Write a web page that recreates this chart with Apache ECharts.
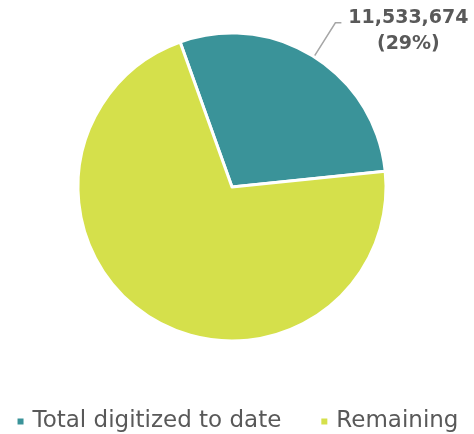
<!DOCTYPE html>
<html>
<head>
<meta charset="utf-8">
<script src="https://cdn.jsdelivr.net/npm/echarts@6/dist/echarts.min.js"></script>
<style>
  html, body { margin: 0; padding: 0; background: #fff; }
  #chart { width: 474px; height: 434px; }
</style>
</head>
<body>
<div id="chart"></div>
<script>
// Digitization progress
const categories = ['Total digitized to date', 'Remaining'];
const values = [11533674, 28466326];
const colors = ['#3A9399', '#D5E04B'];
const shownLabels = [true, false];

var chartDom = document.getElementById('chart');
var myChart = echarts.init(chartDom);

const total = values.reduce((a, b) => a + b, 0);
const dataList = categories.map((name, i) => {
    return {
        value: values[i],
        name: name,
        itemStyle: { color: colors[i] },
        label: { show: shownLabels[i] },
        labelLine: { show: shownLabels[i] }
    };
});

var option = {
    animation: false,
    legend: {
        top: 405,
        left: 'center',
        itemWidth: 8,
        itemHeight: 8,
        itemGap: 38,
        icon: 'rect',
        textStyle: {
            fontFamily: 'DejaVu Sans',
            fontSize: 23,
            color: '#595959',
            padding: [0, 0, 0, 3]
        },
        data: categories
    },
    series: [
        {
            type: 'pie',
            radius: ['0%', 154],
            center: [232, 187],
            startAngle: 109.7,
            clockwise: true,
            avoidLabelOverlap: false,
            itemStyle: {
                borderColor: '#fff',
                borderWidth: 3
            },
            label: {
                position: 'outside',
                alignTo: 'none',
                overflow: 'none',
                distanceToLabelLine: 2,
                padding: [16, 0, 0, 0],
                formatter: function (p) {
                    let pct = Math.round(p.value / total * 100);
                    return '{a|' + p.value.toLocaleString('en-US') + '}\n{a|(' + pct + '%)}';
                },
                rich: {
                    a: {
                        width: 130,
                        align: 'center',
                        fontFamily: 'DejaVu Sans',
                        fontWeight: 'bold',
                        fontSize: 19,
                        lineHeight: 26,
                        color: '#595959'
                    }
                }
            },
            labelLine: {
                length: 40,
                length2: 6,
                lineStyle: { color: '#A6A6A6', width: 1.5 }
            },
            data: dataList
        }
    ]
};
myChart.setOption(option);
</script>
</body>
</html>
